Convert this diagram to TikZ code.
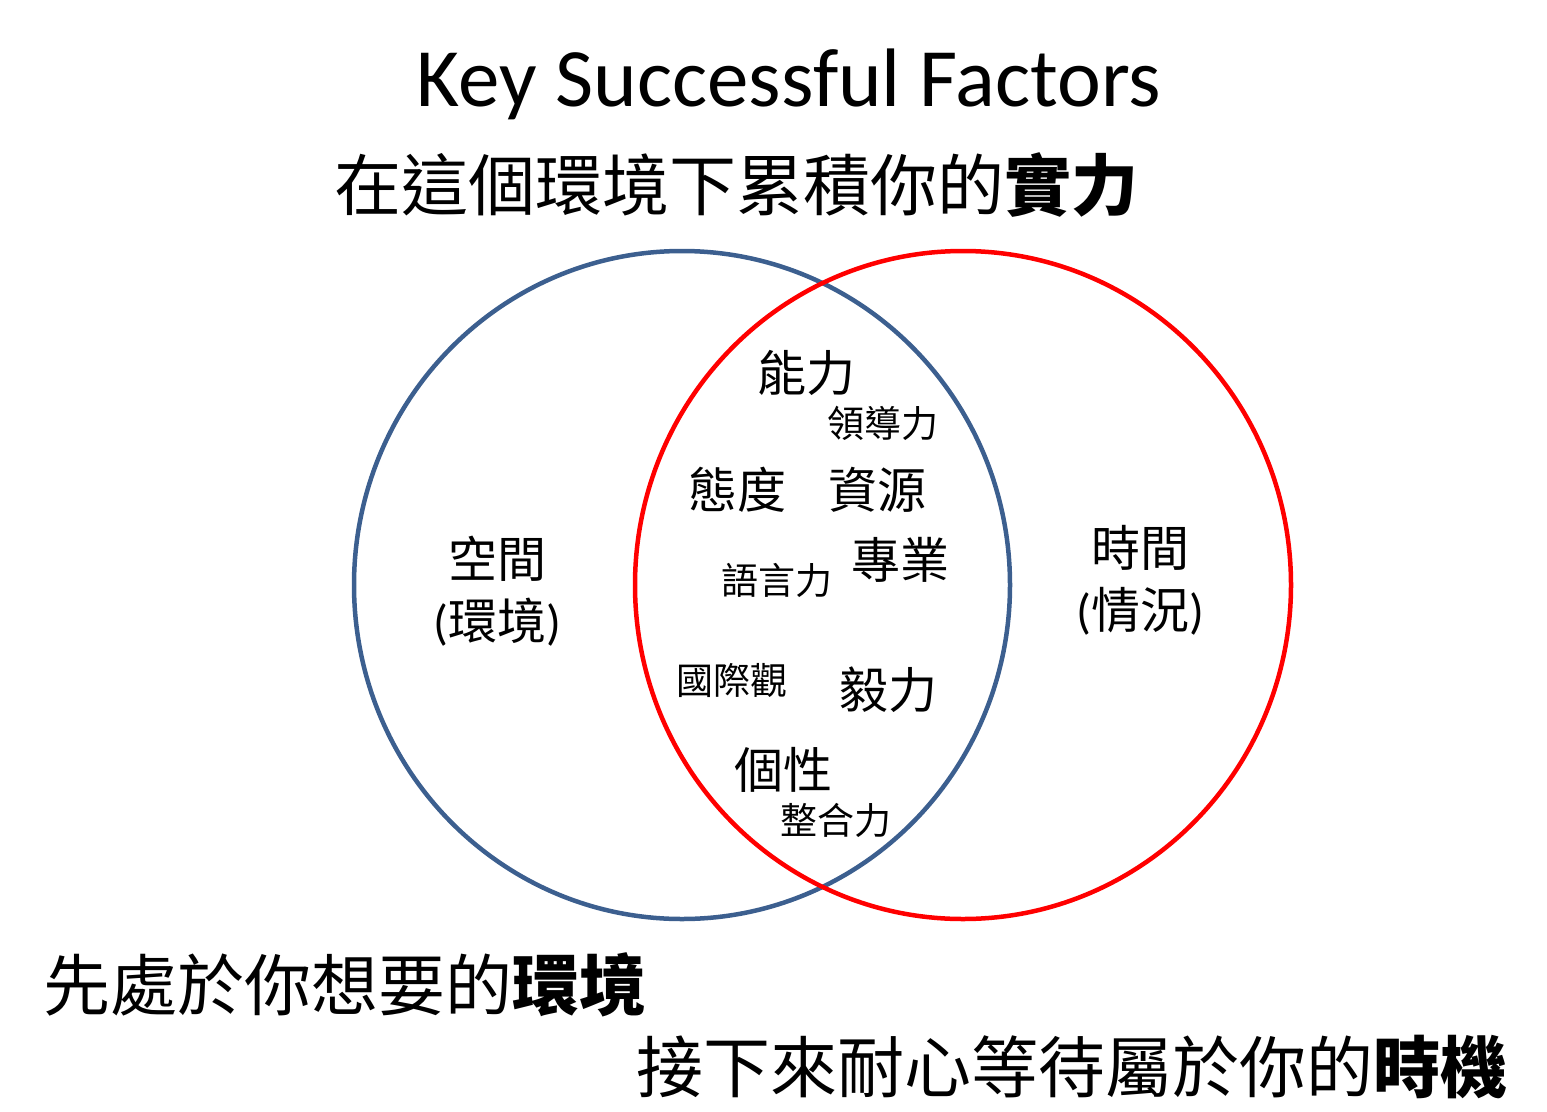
\documentclass[tikz,border=0pt]{standalone}
\usepackage{fontspec}
\setmainfont{Carlito}
\newfontfamily\cjk{Noto Sans CJK TC}
\definecolor{vblue}{HTML}{3C5F8F}
\definecolor{vred}{HTML}{FF0000}
\tikzset{
  big/.style={inner sep=0pt, font=\cjk\fontsize{67}{80}\selectfont},
  mid/.style={inner sep=0pt, font=\cjk\fontsize{49}{62}\selectfont, align=center},
  small/.style={inner sep=0pt, font=\cjk\fontsize{37}{44}\selectfont},
  ring/.style={line width=4.5pt}
}
\begin{document}
\begin{tikzpicture}[x=1pt,y=-1pt]
\useasboundingbox (0,0) rectangle (1547,1111);
\draw[ring, vblue] (682,585) ellipse [x radius=328, y radius=334];
\draw[ring, vred] (963,585) ellipse [x radius=328, y radius=334];
\node[inner sep=0pt, anchor=base, font=\fontsize{83}{96}\selectfont] (title) at (789,106) {Key Successful Factors};
\node[big] (top) at (736,185) {在這個環境下累積你的\textbf{實力}};
\node[big] (bl) at (345,985) {先處於你想要的\textbf{環境}};
\node[big] (br) at (1072,1067) {接下來耐心等待屬於你的\textbf{時機}};
\node[mid] (space) at (497,591) {空間\\{\fontspec{Carlito}(}環境{\fontspec{Carlito})}};
\node[mid] (time) at (1140,580) {時間\\{\fontspec{Carlito}(}情況{\fontspec{Carlito})}};
\node[mid] (ability) at (806,373) {能力};
\node[small] (lead) at (883,423) {領導力};
\node[mid] (attitude) at (737,490) {態度};
\node[mid] (resource) at (877,490) {資源};
\node[mid] (prof) at (900,560) {專業};
\node[small] (lang) at (777,580) {語言力};
\node[small] (intl) at (732,680) {國際觀};
\node[mid] (perse) at (888,690) {毅力};
\node[mid] (person) at (783,770) {個性};
\node[small] (integ) at (836,820) {整合力};
\end{tikzpicture}
\end{document}
